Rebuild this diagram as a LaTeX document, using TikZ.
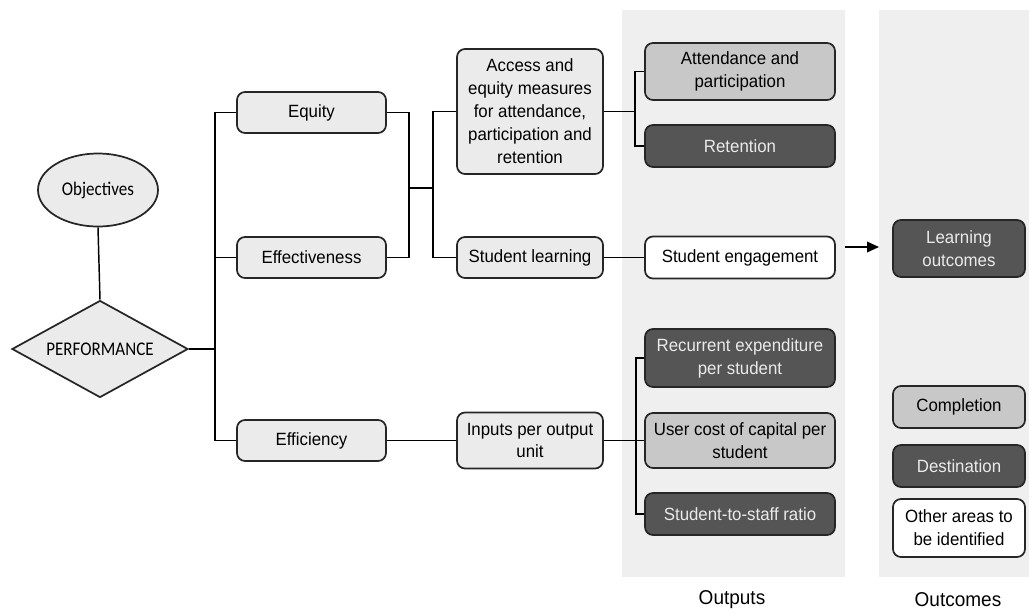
\documentclass[tikz,border=0pt]{standalone}
\usepackage{fontspec}
\setmainfont{Liberation Sans}[FakeStretch=0.95]
\newfontfamily\calib{Carlito}[FakeStretch=0.88]
\usetikzlibrary{shapes.geometric,arrows.meta}
\definecolor{panelgray}{HTML}{EFEFEF}
\definecolor{lightfill}{HTML}{EBEBEB}
\definecolor{midfill}{HTML}{C8C8C8}
\definecolor{darkfill}{HTML}{555555}
\definecolor{darktext}{HTML}{EAEAEA}
\definecolor{edge}{HTML}{262626}
\tikzset{
  base/.style={draw=edge, line width=1.3pt, rounded corners=6pt, align=center,
    inner sep=1pt, font=\fontsize{13.3}{17.2}\selectfont},
  lightbox/.style={base, fill=lightfill},
  midbox/.style={base, fill=midfill},
  darkbox/.style={base, fill=darkfill, text=darktext},
  whitebox/.style={base, fill=white},
  wA/.style={minimum width=111.75pt, minimum height=30.75pt},
  wB/.style={minimum width=109.5pt},
  wC/.style={minimum width=142.5pt},
  wD/.style={minimum width=99pt},
  link/.style={draw=black, line width=1.1pt},
  panel/.style={fill=panelgray, draw=none},
  caption/.style={font=\fontsize{15}{18}\selectfont},
  calibfont/.style={font=\calib\fontsize{14.5}{16}\selectfont}
}
\begin{document}
\begin{tikzpicture}[x=0.75pt,y=-0.75pt]
\useasboundingbox (0,0) rectangle (1029,612);
% panels
\fill[panel] (622,10) rectangle (845,577);
\fill[panel] (879,10) rectangle (1029,577);
\node[caption] (outl) at (732,600) {Outputs};
\node[caption] (outcl) at (958,600) {Outcomes};

% left
\node[draw=edge, line width=1.3pt, fill=lightfill, ellipse, minimum width=90pt, minimum height=54.75pt, inner sep=0pt, calibfont] (obj) at (98,190) {Objectives};
\node[draw=edge, line width=1.3pt, fill=lightfill, diamond, aspect=1.81, minimum width=132pt, minimum height=72.75pt, inner sep=0pt, calibfont] (perf) at (100,349) {PERFORMANCE};

% level 1
\node[lightbox, wA] (equity) at (311.5,112.5) {Equity};
\node[lightbox, wA] (effect) at (311.5,257.5) {Effectiveness};
\node[lightbox, wA] (effic) at (311.5,440.5) {Efficiency};

% level 2
\node[lightbox, wB, minimum height=93.75pt] (access) at (530,111.5) {Access and\\equity measures\\for attendance,\\participation and\\retention};
\node[lightbox, wB, minimum height=30.75pt] (slearn) at (530,257.5) {Student learning};
\node[lightbox, wB, minimum height=42pt] (inputs) at (530,440.5) {Inputs per output\\unit};

% outputs
\node[midbox, wC, minimum height=42.75pt] (attend) at (740,71.5) {Attendance and\\participation};
\node[darkbox, wC, minimum height=31.5pt] (retent) at (740,146) {Retention};
\node[whitebox, wC, minimum height=31.5pt] (engage) at (740,257.5) {Student engagement};
\node[darkbox, wC, minimum height=43.5pt] (recur) at (740,358) {Recurrent expenditure\\per student};
\node[midbox, wC, minimum height=41.25pt] (usercost) at (740,440.5) {User cost of capital per\\student};
\node[darkbox, wC, minimum height=31.5pt] (ratio) at (740,514) {Student-to-staff ratio};

% outcomes
\node[darkbox, wD, minimum height=42.75pt] (learnout) at (959,248.5) {Learning\\outcomes};
\node[midbox, wD, minimum height=31.5pt] (complet) at (959,407) {Completion};
\node[darkbox, wD, minimum height=31.5pt] (destin) at (959,466) {Destination};
\node[whitebox, wD, minimum height=43.5pt] (other) at (959,528) {Other areas to\\be identified};

% connectors
\coordinate (tx) at (215,349);
\coordinate (jx) at (409,188);
\coordinate (kx) at (433,188);
\coordinate (mx) at (635,111.5);
\coordinate (nx) at (636,440.5);
\coordinate (a1) at (845,247);
\coordinate (a2) at (879,247);

\draw[link] (obj.south) -- (perf.north);
\draw[link] (perf.east) -- (tx);
\draw[link] (equity.west) -| (tx) |- (effic.west);
\draw[link] (effect.west) -- (effect.west -| tx);
\draw[link] (equity.east) -| (jx) |- (effect.east);
\draw[link] (jx) -- (kx);
\draw[link] (access.west) -| (kx) |- (slearn.west);
\draw[link] (access.east) -- (mx);
\draw[link] (attend.west) -| (mx) |- (retent.west);
\draw[link] (slearn.east) -- (engage.west);
\draw[link] (effic.east) -- (inputs.west);
\draw[link] (inputs.east) -- (usercost.west);
\draw[link] (recur.west) -| (nx) |- (ratio.west);
\draw[link, -{Triangle[length=9pt, width=8pt]}] (a1) -- (a2);
\end{tikzpicture}
\end{document}
